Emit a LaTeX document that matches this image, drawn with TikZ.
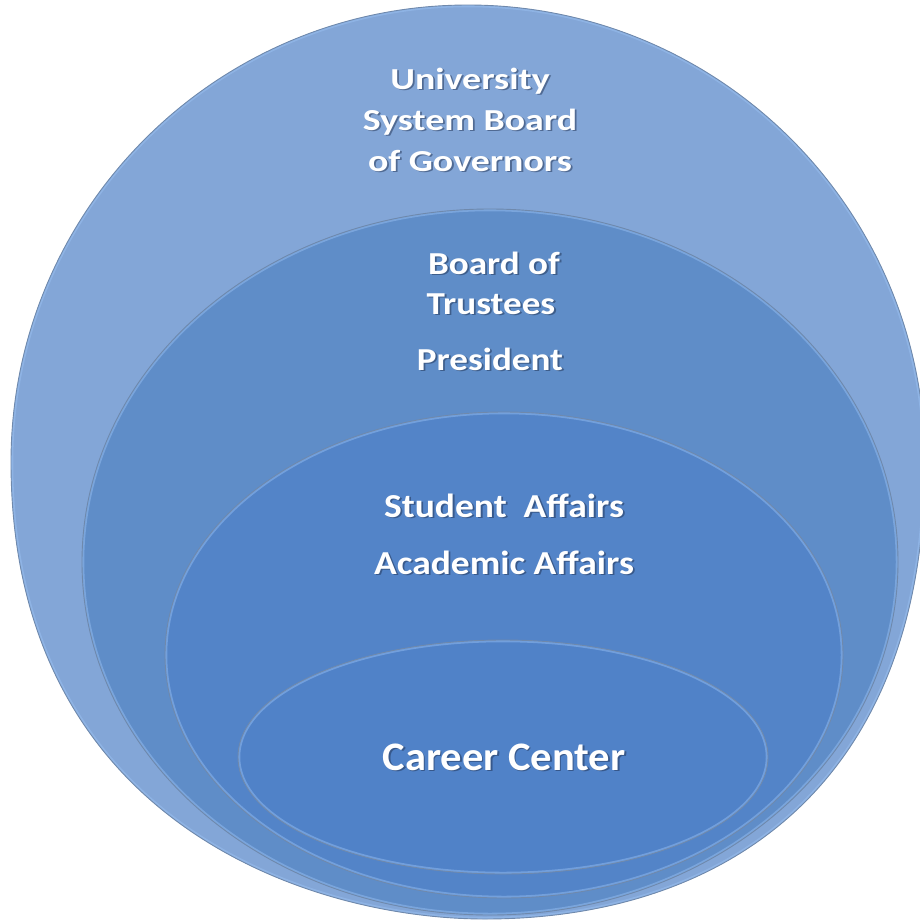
\documentclass[tikz,border=0pt]{standalone}
\usepackage{fontspec}
\setmainfont{Carlito}
\newfontfamily\fontA[FakeStretch=1.24]{Carlito}
\newfontfamily\fontB[FakeStretch=1.16]{Carlito}
\newfontfamily\fontC[FakeStretch=1.12]{Carlito}
\newfontfamily\fontD[FakeStretch=1.05]{Carlito}
\definecolor{c1}{HTML}{83A6D7}
\definecolor{c2}{HTML}{5F8DC8}
\definecolor{c3}{HTML}{5384C8}
\definecolor{c4}{HTML}{5082C8}
\definecolor{rimline}{HTML}{6F89AC}
\definecolor{rimlight}{HTML}{9CC3F5}
\definecolor{shadowcol}{HTML}{1F3050}
\newcommand\ringshape[2]{%
  \fill[#1] #2;
  \begin{scope}\clip #2; \draw[hilite] #2; \end{scope}
  \draw[ring] #2;}
\newcommand\lbl[5]{% name, font, x, y, text
  \node[lblshadow,font=#2] at (#3+1.8,#4+1.8) {#5};
  \node[lbltext,font=#2] (#1) at (#3,#4) {#5};}
\begin{document}
\begin{tikzpicture}[x=1pt,y=-1pt,
  ring/.style={draw=rimline,line width=0.9pt},
  hilite/.style={draw=rimlight,line width=4.5pt,opacity=0.45},
  lbltext/.style={text=white,anchor=base,inner sep=0pt},
  lblshadow/.style={text=shadowcol,text opacity=0.5,anchor=base,inner sep=0pt}]
\useasboundingbox (0,0) rectangle (920,921);
\clip (0,0) rectangle (920,921);
% outer ring
\ringshape{c1}{(11,462) .. controls (11,210) and (216,5) .. (468,5)
  .. controls (720,5) and (925,210) .. (925,462)
  .. controls (925,783) and (727,919) .. (485,919)
  .. controls (305,919) and (11,818) .. cycle}
% second ring
\ringshape{c2}{(490,562) ellipse [x radius=408pt, y radius=353pt]}
% third ring
\ringshape{c3}{(504,655) ellipse [x radius=339pt, y radius=243pt]}
% career center
\ringshape{c4}{(503,757) ellipse [x radius=265pt, y radius=117pt]}
% labels
\lbl{u1}{\fontA\bfseries\fontsize{30.5}{36}\selectfont}{470}{89}{University}
\lbl{u2}{\fontA\bfseries\fontsize{30.5}{36}\selectfont}{470}{130}{System Board}
\lbl{u3}{\fontA\bfseries\fontsize{30.5}{36}\selectfont}{470}{171}{of Governors}
\lbl{b1}{\fontB\bfseries\fontsize{32}{38}\selectfont}{494}{274}{Board of}
\lbl{b2}{\fontB\bfseries\fontsize{32}{38}\selectfont}{491}{314}{Trustees}
\lbl{p1}{\fontB\bfseries\fontsize{32}{38}\selectfont}{490}{370}{President}
\lbl{s1}{\fontC\bfseries\fontsize{33.5}{40}\selectfont}{504}{517}{Student\ \ Affairs}
\lbl{s2}{\fontC\bfseries\fontsize{33.5}{40}\selectfont}{504}{574}{Academic Affairs}
\lbl{cc}{\fontD\bfseries\fontsize{40.5}{48}\selectfont}{504}{770}{Career Center}
\end{tikzpicture}
\end{document}
